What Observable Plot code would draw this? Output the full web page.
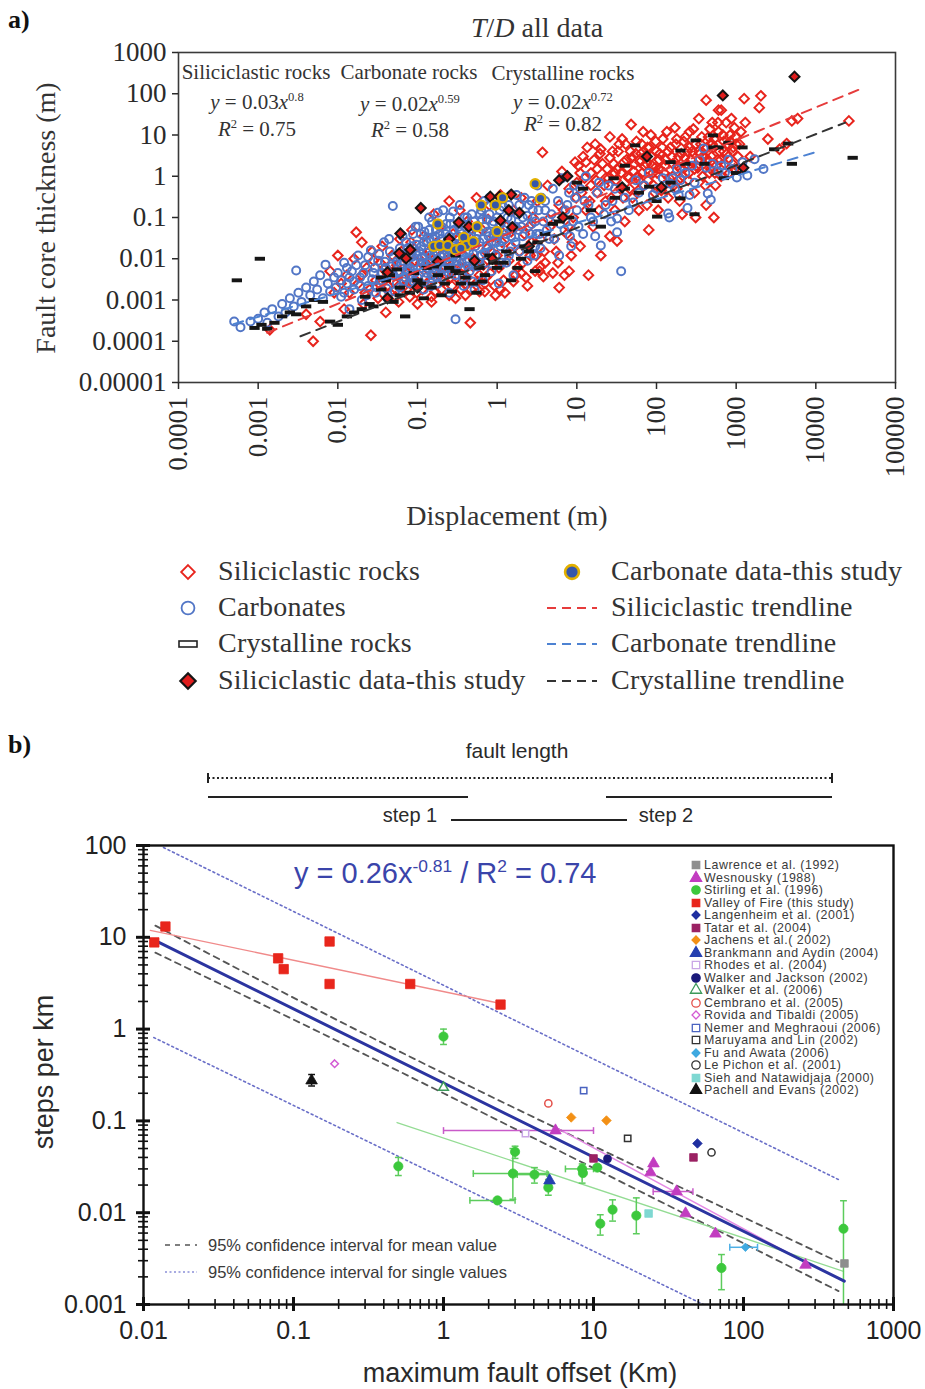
<!DOCTYPE html>
<html><head><meta charset="utf-8">
<script src="https://cdn.jsdelivr.net/npm/d3@7"></script>
<script src="https://cdn.jsdelivr.net/npm/@observablehq/plot@0.6"></script>
<style>
body{margin:0;background:#fff;}
#root{position:relative;width:925px;height:1389px;overflow:hidden;background:#fff;}
.abs{position:absolute;white-space:nowrap;line-height:1;}
.serif{font-family:"Liberation Serif","DejaVu Serif",serif;color:#333;}
.sans{font-family:"Liberation Sans",Arial,sans-serif;color:#333;}
sup{font-size:0.6em;vertical-align:0.6em;line-height:0;}
svg{position:absolute;left:0;}
</style></head><body><div id="root"></div>
<script>
// ---------------- Panel a data: [displacement (m), core thickness (m)] ----------------
const siliciclastic = [
[0.0014,0.00019],[0.0049,0.0001],[0.004,0.00045],[0.006,0.0003],[0.008,0.005],[0.009,0.0015],[0.01,0.012],[0.011,0.0025],
[0.012,0.0006],[0.013,0.004],[0.014,0.0015],[0.016,0.01],[0.017,0.044],[0.018,0.0025],[0.02,0.025],[0.021,0.0008],[0.023,0.006],
[0.025,0.0018],[0.026,0.00014],[0.027,0.015],[0.03,0.003],[0.032,0.0011],[0.034,0.008],[0.036,0.02],[0.04,0.0005],[0.042,0.004],
[0.045,0.0015],[0.048,0.012],[0.05,0.0028],[0.055,0.007],[0.058,0.0009],[0.06,0.03],[0.065,0.002],[0.07,0.01],[0.075,0.0045],
[0.08,0.0012],[0.085,0.05],[0.09,0.018],[0.095,0.003],
[0.1,0.0008],[0.11,0.008],[0.12,0.035],[0.13,0.0025],[0.14,0.015],[0.15,0.0012],[0.16,0.12],[0.17,0.005],[0.19,0.06],[0.2,0.0018],
[0.21,0.02],[0.23,0.009],[0.25,0.25],[0.26,0.0035],[0.28,0.04],[0.3,0.0011],[0.32,0.015],[0.34,0.15],[0.36,0.006],[0.4,0.0025],
[0.42,0.08],[0.45,0.025],[0.46,0.00028],[0.5,0.01],[0.55,0.3],[0.6,0.004],[0.65,0.05],[0.7,0.0016],[0.75,0.018],[0.8,0.2],
[0.85,0.007],[0.9,0.035],[0.95,0.0013],
[1,0.012],[1.1,0.35],[1.2,0.003],[1.3,0.06],[1.5,0.02],[1.6,0.15],[1.8,0.006],[2,0.3],[2.2,0.04],[2.4,0.0022],[2.6,0.012],
[2.8,0.1],[3,0.005],[3.2,0.25],[3.5,0.03],[3.7,3.8],[3.8,0.0037],[4,0.008],[4.3,0.6],[4.6,0.06],[5,0.0045],[5.5,0.015],[6,0.2],
[6,0.002],[6.5,1.3],[7,0.004],[7.5,0.04],[8,0.5],[8,0.005],[8.5,0.012],[9,0.1],[9.5,2.2],
[10,0.7],[11,0.02],[12,3],[13,0.15],[14,0.004],[15,1.2],[16,0.06],[17,6],[18,0.4],[20,0.012],[21,2],[23,0.25],[25,0.9],
[26,0.035],[28,4],[30,0.15],[32,1.5],[32,0.027],[35,0.5],[37,8],[40,0.08],[42,2.5],[45,0.9],[48,18],[50,0.3],[55,3.5],[58,1],
[60,0.15],[65,6],[70,0.6],[75,2],[76,0.2],[80,0.05],[85,10],[90,1.2],[95,0.4],
[100,4],[105,0.15],[110,1.5],[120,8],[125,0.6],[130,2.5],[140,0.3],[150,5],[160,1],[170,15],[180,0.5],[190,3],[200,1.5],
[210,0.12],[220,7],[240,2],[250,0.8],[260,12],[280,4],[300,0.4],[310,0.1],[320,1.8],[340,25],[360,6],[380,1],[400,3],[420,70],
[420,0.2],[450,9],[480,1.5],[500,20],[520,5],[525,0.1],[550,0.6],[580,2.5],[600,12],[650,40],[650,1],[700,4],[750,20],[850,7],
[900,2],[950,15],[1000,6],[1100,1.5],[1260,76],[1300,20],[1500,3],[1950,46],[2040,89],[2500,8],[4300,6.2],[5000,22],[5900,25],[26000,22],
[0.02,0.004],[0.022,0.0015],[0.028,0.009],[0.033,0.0025],[0.038,0.0055],[0.043,0.0022],[0.047,0.0075],[0.053,0.0012],[0.058,0.005],
[0.063,0.015],[0.068,0.0035],[0.073,0.0018],[0.078,0.007],[0.083,0.025],[0.088,0.0025],[0.093,0.009],[0.098,0.0015],
[0.105,0.004],[0.115,0.0018],[0.125,0.012],[0.135,0.0055],[0.145,0.0028],[0.155,0.009],[0.165,0.0016],[0.175,0.025],[0.185,0.004],
[0.195,0.012],[0.21,0.0028],[0.22,0.0065],[0.24,0.0045],[0.25,0.016],[0.27,0.0022],[0.29,0.008],[0.31,0.0035],[0.33,0.03],
[0.35,0.0018],[0.37,0.012],[0.39,0.006],[0.42,0.0035],[0.44,0.045],[0.47,0.0018],[0.5,0.0065],[0.53,0.025],[0.57,0.0028],
[0.62,0.012],[0.67,0.007],[0.72,0.0035],[0.77,0.09],[0.82,0.0045],[0.88,0.014],[0.93,0.0022],
[1.05,0.006],[1.15,0.025],[1.25,0.0015],[1.4,0.009],[1.5,0.045],[1.7,0.004],[1.9,0.015],[2.1,0.008],[2.3,0.0035],[2.5,0.06],
[2.7,0.025],[3.1,0.012],[3.4,0.005],[3.9,0.015],[4.4,0.09],[5.2,0.03],[5.8,0.008],[6.8,0.15],[7.8,0.06],[8.8,0.025],[9.8,0.3],
[10.5,1.8],[11.5,0.4],[12.5,0.9],[13.5,5],[14.5,0.25],[16.5,2.5],[17.5,0.8],[19,0.15],[19.5,3.5],[22,0.6],[24,1.5],[26,9],
[27,0.3],[29,2],[31,0.8],[33,4],[36,1.2],[38,0.3],[41,6],[43,1.6],[46,0.5],[49,2.8],[52,1.3],[56,7],[59,0.45],[62,2.2],[66,1.2],
[68,12],[72,3],[78,0.8],[82,5],[88,1.8],[92,0.6],[98,7],
[102,1.2],[108,2.5],[115,0.45],[118,5],[128,1.8],[135,12],[145,0.9],[155,3],[165,0.6],[175,6],[185,1.8],[195,0.25],[205,3.5],
[215,1],[230,9],[245,4],[255,1.2],[270,2.5],[290,14],[310,6],[330,1.6],[350,3.5],[370,9],[390,2],[410,0.6],[430,5],[460,1.2],
[470,14],[490,3],[530,8],[560,1.8],[590,20],[620,4],[680,10],[720,2],[780,6],[820,1.2],[870,25],[920,5],[980,9],[1050,3],
[1150,12],[3500,4.5],[600,40],
[11,1.2],[13,2.2],[15,0.6],[18,1.5],[20,4.5],[23,0.9],[26,2.8],[30,1.2],[34,6],[39,2.2],[44,1],[47,4],[53,2],[60,0.8],[64,3.5],
[70,1.8],[77,5],[86,3],[96,1.6],[110,3.5],[125,1.2],[140,4],[160,2],[180,8],[200,0.9],[225,2.8],[260,5],[300,1.5],[340,4],
[380,3],[440,2.5],[500,6],[540,1.2],[640,2.5],[700,7],[760,3.5],[840,10],[900,4],[950,1.5],[1100,6],
[0.6,0.0016],[0.7,0.0025],[1.1,0.0018],[1.6,0.0028],[2,0.0045],[3.5,0.0065],[0.15,0.0009],[0.25,0.0013],[0.4,0.0013]
];
const carbonates = [
[0.0005,0.0003],[0.0006,0.00022],[0.0008,0.0003],[0.001,0.00035],[0.0012,0.0005],[0.0013,0.00028],[0.0015,0.0006],[0.0018,0.0004],
[0.002,0.0008],[0.0022,0.0005],[0.0025,0.0011],[0.0028,0.0007],[0.003,0.0052],[0.0032,0.0015],[0.0035,0.0009],[0.004,0.002],
[0.0045,0.0013],[0.005,0.0028],[0.0055,0.0018],[0.006,0.004],[0.0065,0.0011],[0.007,0.0072],[0.0075,0.0025],[0.008,0.0016],
[0.009,0.0035],[0.0095,0.002],
[0.01,0.0045],[0.011,0.0012],[0.012,0.008],[0.013,0.0025],[0.014,0.0006],[0.015,0.005],[0.016,0.0018],[0.018,0.012],[0.019,0.0035],
[0.02,0.001],[0.022,0.007],[0.024,0.0022],[0.026,0.016],[0.028,0.0045],[0.03,0.0015],[0.032,0.009],[0.035,0.003],[0.038,0.025],
[0.04,0.006],[0.042,0.0011],[0.045,0.015],[0.049,0.19],[0.05,0.004],[0.055,0.0085],[0.06,0.002],[0.065,0.035],[0.07,0.012],
[0.075,0.005],[0.08,0.0025],[0.085,0.02],[0.09,0.008],[0.095,0.06],
[0.1,0.0035],[0.105,0.015],[0.11,0.04],[0.12,0.0018],[0.125,0.007],[0.13,0.025],[0.14,0.1],[0.15,0.004],[0.16,0.012],[0.17,0.05],
[0.18,0.0025],[0.19,0.009],[0.2,0.03],[0.21,0.15],[0.22,0.006],[0.24,0.018],[0.25,0.0015],[0.26,0.07],[0.28,0.011],[0.3,0.00034],
[0.3,0.004],[0.32,0.035],[0.34,0.2],[0.36,0.008],[0.38,0.0022],[0.4,0.02],[0.42,0.1],[0.45,0.005],[0.48,0.05],[0.5,0.013],
[0.52,0.0018],[0.55,0.03],[0.6,0.008],[0.63,0.15],[0.66,0.003],[0.7,0.06],[0.75,0.02],[0.8,0.3],[0.85,0.005],[0.9,0.04],[0.95,0.012],
[1,0.1],[1.05,0.0025],[1.1,0.02],[1.2,0.05],[1.3,0.008],[1.4,0.2],[1.5,0.035],[1.6,0.004],[1.8,0.12],[1.9,0.015],[2,0.06],
[2.2,0.3],[2.4,0.009],[2.6,0.04],[2.8,0.15],[3,0.02],[3.2,0.6],[3.5,0.018],[3.8,0.08],[4,0.25],[4.5,0.03],[5,0.5],[5.5,0.1],
[6,0.012],[6.5,0.9],[7,0.05],[7.6,0.2],[8,0.4],[8.5,0.02],[9,0.08],[9.5,0.3],
[10,0.15],[11,0.5],[12,0.04],[13,1],[14,0.2],[16,0.08],[18,0.4],[20,0.021],[22,0.12],[25,0.6],[28,0.25],[32,0.044],[32,0.095],
[36,0.005],[40,0.3],[45,0.15],[51,0.23],[55,0.8],[60,0.4],[70,0.6],[80,1.2],[90,0.35],
[100,0.5],[120,0.9],[140,0.125],[145,0.1],[150,0.66],[180,1.5],[200,0.8],[230,1.2],[245,0.17],[300,0.7],[390,4.7],[440,0.38],
[480,0.27],[500,2],[600,1.3],[720,1.2],[800,2.5],[1020,0.93],[1380,1.05],[2200,1.5],
[0.011,0.003],[0.012,0.0015],[0.013,0.006],[0.014,0.0035],[0.016,0.0028],[0.017,0.007],[0.019,0.0022],[0.021,0.0045],[0.023,0.0013],
[0.024,0.011],[0.027,0.0032],[0.029,0.006],
[0.031,0.002],[0.033,0.013],[0.036,0.0045],[0.039,0.0085],[0.041,0.0019],[0.044,0.03],[0.046,0.0065],[0.05,0.011],[0.052,0.0016],
[0.057,0.0045],[0.06,0.018],[0.062,0.0075],[0.067,0.0028],[0.072,0.025],[0.074,0.0055],[0.078,0.013],[0.082,0.0035],[0.088,0.04],
[0.092,0.0045],[0.097,0.022],
[0.1,0.012],[0.102,0.06],[0.107,0.0025],[0.112,0.02],[0.118,0.008],[0.122,0.045],[0.128,0.0035],[0.133,0.014],[0.138,0.006],
[0.142,0.03],[0.148,0.0022],[0.152,0.08],[0.158,0.018],[0.163,0.0045],[0.168,0.035],[0.174,0.009],[0.18,0.13],[0.185,0.02],
[0.195,0.006],[0.2,0.06],[0.205,0.0035],[0.215,0.012],[0.225,0.04],[0.235,0.025],[0.245,0.008],[0.255,0.1],[0.265,0.015],
[0.27,0.0045],[0.285,0.05],[0.29,0.02],
[0.31,0.009],[0.33,0.06],[0.35,0.015],[0.37,0.0035],[0.39,0.1],[0.41,0.03],[0.43,0.0065],[0.44,0.015],[0.47,0.04],[0.49,0.0028],
[0.51,0.08],[0.53,0.02],[0.56,0.0065],[0.58,0.045],[0.61,0.12],[0.64,0.012],[0.67,0.03],[0.69,0.25],[0.72,0.008],[0.74,0.09],
[0.78,0.035],[0.82,0.015],[0.87,0.07],[0.92,0.2],[0.97,0.025],
[1.02,0.04],[1.08,0.15],[1.15,0.008],[1.25,0.03],[1.35,0.1],[1.45,0.015],[1.55,0.06],[1.7,0.025],[1.75,0.35],[1.85,0.05],
[2.1,0.1],[2.3,0.018],[2.5,0.2],[2.7,0.07],[2.9,0.012],[3.1,0.04],[3.3,0.15],[3.6,0.3],[4.2,0.05],[4.8,0.12],
[5.2,0.03],[5.8,0.25],[6.2,0.07],[7.2,0.15],[8.2,0.035],[9.2,0.6],[10.5,0.06],[12.5,0.25],[15,0.1],[17,0.035],[19,0.7],[23,0.2],
[27,0.08],[30,0.5],
[160,0.9],[170,0.5],[190,0.35],[260,0.35],[280,1.8],[350,2.5],[420,1.6],[650,1.8],[900,1.5],[1200,2.2],[1700,2.6],
[0.055,0.0025],[0.06,0.0045],[0.065,0.009],[0.07,0.0035],[0.075,0.018],[0.08,0.006],[0.085,0.011],[0.09,0.0028],[0.095,0.014],
[0.11,0.006],[0.115,0.011],[0.12,0.025],[0.13,0.0045],[0.135,0.008],[0.14,0.05],[0.145,0.012],[0.155,0.006],[0.16,0.03],
[0.17,0.015],[0.175,0.0035],[0.18,0.008],[0.19,0.04],[0.2,0.011],[0.21,0.0055],[0.22,0.02],[0.23,0.07],[0.24,0.011],[0.25,0.035],
[0.26,0.006],[0.27,0.025],[0.28,0.14],[0.3,0.018],[0.32,0.007],[0.34,0.045],[0.36,0.025],[0.38,0.012],[0.4,0.06],[0.42,0.009],
[0.44,0.035],[0.46,0.02],[0.48,0.12],[0.5,0.007],[0.55,0.06],[0.6,0.025],[0.65,0.09],[0.7,0.014],[0.75,0.045],[0.8,0.12],
[0.85,0.025],[0.9,0.08],[1,0.035],[1.1,0.07],[1.2,0.18],[1.3,0.04],[1.4,0.012],[1.5,0.09],[1.7,0.06],[1.9,0.2],[2.1,0.035],
[2.4,0.11],[2.7,0.25],[3,0.08],[3.4,0.04],[4,0.15]
];
const crystalline = [
[0.00054,0.003],[0.00105,0.01],[0.0009,0.00021],[0.0011,0.00025],[0.0013,0.0002],[0.0016,0.00028],[0.002,0.0004],[0.0025,0.0005],
[0.003,0.00045],[0.004,0.0007],[0.005,0.001],[0.0065,0.0009],[0.008,0.0003],[0.01,0.00025],[0.013,0.0004],[0.016,0.0005],
[0.02,0.0006],[0.022,0.0012],[0.028,0.0007],[0.035,0.0018],[0.04,0.003],[0.05,0.0009],[0.06,0.002],[0.07,0.0004],[0.08,0.0015],
[0.1,0.003],[0.12,0.0011],[0.13,0.006],[0.15,0.002],[0.18,0.004],[0.2,0.0013],[0.22,0.0025],[0.27,0.0016],[0.3,0.005],[0.33,0.0045],
[0.4,0.0035],[0.45,0.0006],[0.5,0.0025],[0.6,0.006],[0.7,0.004],[0.8,0.012],[1,0.006],[1.2,0.008],[1.5,0.003],[2,0.01],[2.5,0.015],
[3,0.005],[3.2,0.025],[4,0.04],[6,0.08],[8,0.1],[10,0.7],[12,0.5],[15,0.15],[20,0.06],[29,0.89],[30,0.3],[40,1.8],[54,5.6],
[60,0.4],[81,0.56],[100,0.25],[102,0.105],[150,0.7],[200,4.2],[200,0.29],[230,2],[300,0.12],[310,7.4],[400,2],[510,9.8],
[520,5],[700,0.9],[1000,1.2],[1200,5],[4500,6.2],[5000,2],[29000,2.8],
[0.035,0.0035],[0.045,0.004],[0.055,0.0055],[0.09,0.0045],[0.11,0.0025],[0.16,0.0065],[0.25,0.006],[0.35,0.0025],[0.55,0.0015],
[0.9,0.008],[1.3,0.015],[1.8,0.006],[2.2,0.02],[0.06,0.0013],[0.025,0.0008],[0.3,0.012],[0.65,0.0028],[5,0.07],[40,0.5],
[150,2.2],[600,5],[800,6.5],[3000,4.5]
];
const siliciclasticStudy = [
[0.042,0.0011],[0.042,0.0047],[0.059,0.0135],[0.061,0.041],[0.072,0.0102],[0.081,0.0166],[0.1,0.002],[0.11,0.17],[0.18,0.0085],
[0.25,0.03],[0.33,0.076],[0.44,0.06],[0.52,0.009],[0.82,0.32],[0.87,0.01],[1.07,0.32],[1.1,0.085],[1.4,0.15],[1.5,0.36],
[1.55,0.058],[1.9,0.13],[2.5,0.02],[6,0.8],[6.7,0.1],[7.6,1.0],[37,0.54],[76,3],[115,0.54],[680,91],[1230,1.6],[5400,260]
];
const carbonateStudy = [
[3.0,0.66],[3.5,0.29],[0.63,0.2],[0.95,0.2],[1.17,0.3],[0.18,0.07],[0.56,0.06],[1.0,0.046],[0.16,0.02],[0.19,0.021],
[0.24,0.021],[0.3,0.0166],[0.38,0.033],[0.41,0.021],[0.5,0.026],[0.35,0.018]
];
const siliciclasticTrend = [[0.0013,0.00016],[38000,135]];
const carbonateTrend = [[0.00049,0.00026],[9800,3.8]];
const crystallineTrend = [[0.0034,0.000132],[23400,20]];
const xTicksA = [1e-4,1e-3,1e-2,1e-1,1,10,100,1000,1e4,1e5];
const xTickLabelsA = ["0.0001","0.001","0.01","0.1","1","10","100","1000","10000","100000"];
const yTicksA = [1e-5,1e-4,1e-3,1e-2,1e-1,1,10,100,1000];
const yTickLabelsA = ["0.00001","0.0001","0.001","0.01","0.1","1","10","100","1000"];
const legendA = ["Siliciclastic rocks","Carbonates","Crystalline rocks","Siliciclastic data-this study",
  "Carbonate data-this study","Siliciclastic trendline","Carbonate trendline","Crystalline trendline"];

// ---------------- Panel b data: [max fault offset (km), steps per km] ----------------
const valleyOfFire = [[0.0118,8.8],[0.014,13.1],[0.079,5.9],[0.086,4.5],[0.174,9.0],[0.174,3.1],[0.6,3.1],[2.4,1.85]];
const stirling = [
 {x:1.0,y:0.83,ylo:0.68,yhi:1.0},
 {x:0.5,y:0.032,ylo:0.0254,yhi:0.04},
 {x:3.0,y:0.046,ylo:0.039,yhi:0.053},
 {x:2.9,y:0.0267,ylo:0.014,yhi:0.05,xlo:1.58,xhi:4.9},
 {x:4.04,y:0.026,ylo:0.021,yhi:0.031,xlo:3.1,xhi:5.0},
 {x:2.29,y:0.0136,xlo:1.5,xhi:3.0},
 {x:5.0,y:0.0188,ylo:0.0155,yhi:0.023},
 {x:8.4,y:0.030,ylo:0.021,yhi:0.034,xlo:6.5,xhi:10.0},
 {x:8.5,y:0.027},
 {x:10.6,y:0.031},
 {x:11.1,y:0.0076,ylo:0.0057,yhi:0.0095},
 {x:13.4,y:0.0108,ylo:0.0081,yhi:0.0138},
 {x:19.3,y:0.0093,ylo:0.0059,yhi:0.0145},
 {x:71.3,y:0.0025,ylo:0.00145,yhi:0.0035},
 {x:464,y:0.0067,ylo:0.001,yhi:0.0135}
];
const wesnousky = [
 {x:5.58,y:0.0785,xlo:1.0,xhi:10.0},{x:25.1,y:0.0343},{x:24,y:0.0274},{x:35.8,y:0.017,xlo:25,xhi:46},
 {x:41.1,y:0.0098},{x:65,y:0.0059},{x:259,y:0.0027}
];
const lawrence = [[471,0.0028]];
const langenheim = [[49.3,0.0568]];
const tatar = [[10,0.039],[46.4,0.04]];
const jachens = [[7.1,0.109],[12.2,0.101]];
const brankmann = [[5.09,0.0224]];
const rhodes = [[3.52,0.073]];
const walkerJackson = [[12.4,0.0386]];
const walker2006 = [[1.0,0.231]];
const cembrano = [[5.0,0.155]];
const rovida = [[0.188,0.42]];
const nemer = [[8.6,0.214]];
const maruyama = [[16.9,0.0646]];
const fuAwata = [{x:103,y:0.0042,xlo:81,xhi:124}];
const lePichon = [[61.2,0.0453]];
const sieh = [[23.3,0.0098]];
const pachell = [{x:0.132,y:0.275,ylo:0.24,yhi:0.32}];
const mainFit = [[0.012,9.2],[470,0.0018]];
const ciMeanUpper = [[0.012,13.4],[1,0.33],[430,0.0029]];
const ciMeanLower = [[0.012,6.8],[1,0.2],[430,0.0014]];
const ciSingleUpper = [[0.0136,95],[443,0.0224]];
const ciSingleLower = [[0.0117,0.81],[54,0.001]];
const valleyFit = [[0.0111,11.9],[2.4,1.9]];
const stirlingFit = [[0.49,0.096],[464,0.0023]];
const wesnouskyFit = [[5.75,0.083],[267,0.0028]];
const xTicksB = [0.01,0.1,1,10,100,1000];
const xTickLabelsB = ["0.01","0.1","1","10","100","1000"];
const yTicksB = [0.001,0.01,0.1,1,10,100];
const yTickLabelsB = ["0.001","0.01","0.1","1","10","100"];
const legendB = ["Lawrence et al. (1992)","Wesnousky (1988)","Stirling et al. (1996)","Valley of Fire (this study)",
 "Langenheim et al. (2001)","Tatar et al. (2004)","Jachens et al.( 2002)","Brankmann and Aydin (2004)","Rhodes et al. (2004)",
 "Walker and Jackson (2002)","Walker et al. (2006)","Cembrano et al. (2005)","Rovida and Tibaldi (2005)",
 "Nemer and Meghraoui (2006)","Maruyama and Lin (2002)","Fu and Awata (2006)","Le Pichon et al. (2001)",
 "Sieh and Natawidjaja (2000)","Pachell and Evans (2002)"];

const C = {lawrence:"#8e8e8e", wes:"#c23cc0", stir:"#3cc83c", vof:"#e8261c", lang:"#1f2fa0", tatar:"#9b2163",
  jach:"#f39015", brank:"#2540b0", rhodes:"#c9a6e6", wj:"#1b1a7a", w06:"#3c9a5a", cemb:"#e4504a", rov:"#d35bd3",
  nemer:"#4a63c0", maru:"#333", fu:"#3fa9e0", lep:"#333", sieh:"#7fd8d2", pach:"#111"};
const legendBStyle = [["square",C.lawrence,1],["triangle",C.wes,1],["circle",C.stir,1],["square",C.vof,1],["diamond2",C.lang,1],
 ["square",C.tatar,1],["diamond2",C.jach,1],["triangle",C.brank,1],["square",C.rhodes,0],["circle",C.wj,1],["triangle",C.w06,0],
 ["circle",C.cemb,0],["diamond2",C.rov,0],["square",C.nemer,0],["square",C.maru,0],["diamond2",C.fu,1],["circle",C.lep,0],
 ["square",C.sieh,1],["triangle",C.pach,1]];

const root = document.getElementById("root");
function put(html, x, y, o = {}) {
  const d = document.createElement("div");
  d.className = "abs " + (o.cls || "serif");
  d.innerHTML = html;
  d.style.left = x + "px"; d.style.top = y + "px";
  d.style.fontSize = (o.size || 20) + "px";
  if (o.color) d.style.color = o.color;
  if (o.weight) d.style.fontWeight = o.weight;
  if (o.ls) d.style.letterSpacing = o.ls + "px";
  const tx = o.align === "center" ? "-50%" : o.align === "right" ? "-100%" : "0";
  d.style.transform = `translate(${tx},-50%)` + (o.rotate ? ` rotate(${o.rotate}deg)` : "");
  root.appendChild(d);
  return d;
}
const symMap = {square:d3.symbolSquare, triangle:d3.symbolTriangle, circle:d3.symbolCircle, diamond2:d3.symbolDiamond2};
function iconSvg(sym, color, filled, area, w, h, sw = 1.5, strokeOverride) {
  const p = d3.symbol(symMap[sym], area)();
  return `<svg width="${w}" height="${h}" style="position:static;overflow:visible;display:block"><path transform="translate(${w/2},${h/2})" d="${p}" fill="${filled ? color : "white"}" stroke="${strokeOverride || color}" stroke-width="${sw}"/></svg>`;
}

const barSym = {draw(ctx, size) { const w = Math.sqrt(size) * 1.45, h = w * 0.38; ctx.rect(-w/2, -h/2, w, h); }};
const hCap = {draw(ctx, size) { const w = Math.sqrt(size) * 0.55; ctx.moveTo(-w, 0); ctx.lineTo(w, 0); }};
const vCap = {draw(ctx, size) { const w = Math.sqrt(size) * 0.55; ctx.moveTo(0, -w); ctx.lineTo(0, w); }};

// ================= Panel a =================
const fmtA = new Map(xTicksA.map((t, i) => [t, xTickLabelsA[i]]));
const fmtAy = new Map(yTicksA.map((t, i) => [t, yTickLabelsA[i]]));
const X = d => d[0], Y = d => d[1];
const plotA = Plot.plot({
  width: 925, height: 480,
  marginLeft: 178, marginRight: 30, marginTop: 52, marginBottom: 98,
  x: {type: "log", domain: [1e-4, 1e5]},
  y: {type: "log", domain: [1e-5, 1e3]},
  style: {fontFamily: "Liberation Serif, serif", fontSize: "27px", color: "#2a2a2a", background: "transparent", overflow: "visible"},
  marks: [
    Plot.dot(siliciclastic, {x: X, y: Y, symbol: "diamond2", r: 4.3, stroke: "#e8241c", strokeWidth: 2, fill: "none"}),
    Plot.dot(carbonates, {x: X, y: Y, symbol: "circle", r: 4, stroke: "#5276c6", strokeWidth: 2, fill: "none"}),
    Plot.dot(crystalline, {x: X, y: Y, symbol: barSym, r: 4, fill: "#151515", stroke: "none"}),
    Plot.dot(siliciclasticStudy, {x: X, y: Y, symbol: "diamond2", r: 4.5, fill: "#e01e1e", stroke: "#151515", strokeWidth: 2}),
    Plot.dot(carbonateStudy, {x: X, y: Y, symbol: "circle", r: 4.6, fill: "#3556aa", stroke: "#e2b000", strokeWidth: 2.2}),
    Plot.line(carbonateTrend, {x: X, y: Y, stroke: "#4d82d2", strokeWidth: 2, strokeDasharray: "10,7"}),
    Plot.line(crystallineTrend, {x: X, y: Y, stroke: "#333", strokeWidth: 2, strokeDasharray: "10,7"}),
    Plot.line(siliciclasticTrend, {x: X, y: Y, stroke: "#e63c3c", strokeWidth: 2, strokeDasharray: "10,7"}),
    Plot.frame({stroke: "#3a3a3a", strokeWidth: 1.6}),
    Plot.axisX({ticks: xTicksA, tickFormat: d => fmtA.get(d), tickRotate: -90, tickSize: 7, tickPadding: 7, label: null, strokeWidth: 1.5}),
    Plot.axisY({ticks: yTicksA, tickFormat: d => fmtAy.get(d), tickSize: 6, tickPadding: 6, label: null, strokeWidth: 1.5})
  ]
});
plotA.style.top = "0px";
root.appendChild(plotA);

put("a)", 8, 20, {size: 26, weight: "bold", color: "#111"});
put("<i>T</i>/<i>D</i> all data", 537, 28, {size: 28, align: "center"});
put("Fault core thickness (m)", 46, 218, {size: 28, align: "center", rotate: -90});
put("Displacement (m)", 507, 516, {size: 28, align: "center"});
put("Siliciclastic rocks", 256, 72, {size: 21, align: "center"});
put("Carbonate rocks", 409, 72, {size: 21, align: "center"});
put("Crystalline rocks", 563, 73, {size: 21, align: "center"});
put("<i>y</i> = 0.03<i>x</i><sup>0.8</sup>", 257, 102, {size: 21, align: "center"});
put("<i>y</i> = 0.02<i>x</i><sup>0.59</sup>", 410, 104, {size: 21, align: "center"});
put("<i>y</i> = 0.02<i>x</i><sup>0.72</sup>", 563, 102, {size: 21, align: "center"});
put("<i>R</i><sup>2</sup> = 0.75", 257, 129, {size: 21, align: "center"});
put("<i>R</i><sup>2</sup> = 0.58", 410, 130, {size: 21, align: "center"});
put("<i>R</i><sup>2</sup> = 0.82", 563, 124, {size: 21, align: "center"});

const rowsA = [571, 607, 643, 680];
const iconsA = [
  iconSvg("diamond2", "#e8241c", 0, 120, 22, 22, 1.8),
  iconSvg("circle", "#5276c6", 0, 130, 22, 22, 1.8),
  `<svg width="22" height="22" style="position:static;display:block"><rect x="2" y="8" width="18" height="6" fill="white" stroke="#222" stroke-width="1.6"/></svg>`,
  iconSvg("diamond2", "#e01e1e", 1, 150, 22, 22, 2.2, "#151515"),
  iconSvg("circle", "#3556aa", 1, 150, 22, 22, 2.6, "#e2b000"),
  `<svg width="50" height="10" style="position:static;display:block"><line x1="0" y1="5" x2="50" y2="5" stroke="#e63c3c" stroke-width="2" stroke-dasharray="9,6"/></svg>`,
  `<svg width="50" height="10" style="position:static;display:block"><line x1="0" y1="5" x2="50" y2="5" stroke="#4d82d2" stroke-width="2" stroke-dasharray="9,6"/></svg>`,
  `<svg width="50" height="10" style="position:static;display:block"><line x1="0" y1="5" x2="50" y2="5" stroke="#333" stroke-width="2" stroke-dasharray="9,6"/></svg>`
];
legendA.forEach((lab, i) => {
  const col = i < 4 ? 0 : 1, row = i % 4;
  const y = rowsA[row];
  put(iconsA[i], col === 0 ? 188 : 572, y + 1, {align: "center", size: 10});
  put(lab, col === 0 ? 218 : 611, y, {size: 28, ls: 0.2});
});

// ================= Panel b =================
const fmtB = new Map(xTicksB.map((t, i) => [t, xTickLabelsB[i]]));
const fmtBy = new Map(yTicksB.map((t, i) => [t, yTickLabelsB[i]]));
const minorX = xTicksB.slice(0, -1).flatMap(t => [2,3,4,5,6,7,8,9].map(k => +(t * k).toPrecision(3)));
const minorY = yTicksB.slice(0, -1).flatMap(t => [2,3,4,5,6,7,8,9].map(k => +(t * k).toPrecision(3)));
const FW = 750, FH = 459;
const eb = (data, color, sw = 1.5, cap = 3.5) => [
  Plot.ruleX(data.filter(d => d.ylo != null), {x: "x", y1: "ylo", y2: "yhi", stroke: color, strokeWidth: sw}),
  Plot.dot(data.filter(d => d.ylo != null && d.ylo > 0.00101), {x: "x", y: "ylo", symbol: hCap, r: cap, stroke: color, strokeWidth: sw, fill: "none"}),
  Plot.dot(data.filter(d => d.yhi != null), {x: "x", y: "yhi", symbol: hCap, r: cap, stroke: color, strokeWidth: sw, fill: "none"}),
  Plot.ruleY(data.filter(d => d.xlo != null), {y: "y", x1: "xlo", x2: "xhi", stroke: color, strokeWidth: sw}),
  Plot.dot(data.filter(d => d.xlo != null), {x: "xlo", y: "y", symbol: vCap, r: cap, stroke: color, strokeWidth: sw, fill: "none"}),
  Plot.dot(data.filter(d => d.xhi != null), {x: "xhi", y: "y", symbol: vCap, r: cap, stroke: color, strokeWidth: sw, fill: "none"})
];
const pt = (data, sym, color, filled, r = 4) => Plot.dot(data, {
  x: d => Array.isArray(d) ? d[0] : d.x, y: d => Array.isArray(d) ? d[1] : d.y,
  symbol: sym, r, fill: filled ? color : "white", stroke: color, strokeWidth: filled ? 0.8 : 1.5
});
const plotB = Plot.plot({
  width: 925, height: 559,
  marginLeft: 143, marginRight: 32, marginTop: 15, marginBottom: 85,
  x: {type: "log", domain: [0.01, 1000]},
  y: {type: "log", domain: [0.001, 100]},
  style: {fontFamily: "Liberation Sans, Arial, sans-serif", fontSize: "25px", color: "#222", background: "transparent", overflow: "visible"},
  marks: [
    Plot.line(ciSingleUpper, {x: X, y: Y, stroke: "#6a6fc8", strokeWidth: 1.6, strokeDasharray: "2,3", clip: true}),
    Plot.line(ciSingleLower, {x: X, y: Y, stroke: "#6a6fc8", strokeWidth: 1.6, strokeDasharray: "2,3", clip: true}),
    Plot.line(ciMeanUpper, {x: X, y: Y, curve: "natural", stroke: "#555", strokeWidth: 1.8, strokeDasharray: "6,5"}),
    Plot.line(ciMeanLower, {x: X, y: Y, curve: "natural", stroke: "#555", strokeWidth: 1.8, strokeDasharray: "6,5"}),
    Plot.line(valleyFit, {x: X, y: Y, stroke: "#f08a8a", strokeWidth: 1.3}),
    Plot.line(stirlingFit, {x: X, y: Y, stroke: "#94dc94", strokeWidth: 1.3}),
    Plot.line(wesnouskyFit, {x: X, y: Y, stroke: "#e48ae4", strokeWidth: 1.5}),
    ...eb(stirling, "#5ccc5c"),
    ...eb(wesnousky, "#c95ac9"),
    ...eb(fuAwata, "#4fb0e6"),
    ...eb(pachell, "#111"),
    Plot.line(mainFit, {x: X, y: Y, stroke: "#2b34a0", strokeWidth: 3}),
    pt(valleyOfFire, "square", C.vof, 1, 5.3),
    pt(stirling, "circle", C.stir, 1, 4.6),
    pt(wesnousky, "triangle", C.wes, 1, 4.3),
    pt(lawrence, "square", C.lawrence, 1, 4.3),
    pt(langenheim, "diamond2", C.lang, 1, 4.3),
    pt(tatar, "square", C.tatar, 1, 4.3),
    pt(jachens, "diamond2", C.jach, 1, 4.3),
    pt(brankmann, "triangle", C.brank, 1, 4.3),
    pt(rhodes, "square", C.rhodes, 0, 3.6),
    pt(walkerJackson, "circle", C.wj, 1, 4),
    pt(walker2006, "triangle", C.w06, 0, 3.6),
    pt(cembrano, "circle", C.cemb, 0, 3.6),
    pt(rovida, "diamond2", C.rov, 0, 3.4),
    pt(nemer, "square", C.nemer, 0, 3.6),
    pt(maruyama, "square", C.maru, 0, 3.6),
    pt(fuAwata, "diamond2", C.fu, 1, 3.8),
    pt(lePichon, "circle", C.lep, 0, 3.6),
    pt(sieh, "square", C.sieh, 1, 4.3),
    pt(pachell, "triangle", C.pach, 1, 4.3),
    Plot.ruleX(minorX, {insetTop: FH - 5, insetBottom: -5, stroke: "#111", strokeWidth: 1.6}),
    Plot.ruleX(xTicksB, {insetTop: FH - 7, insetBottom: -7, stroke: "#111", strokeWidth: 3}),
    Plot.ruleY(minorY, {insetRight: FW - 5, insetLeft: -5, stroke: "#111", strokeWidth: 1.6}),
    Plot.ruleY(yTicksB, {insetRight: FW - 7, insetLeft: -7, stroke: "#111", strokeWidth: 3}),
    Plot.frame({stroke: "#111", strokeWidth: 2.4}),
    Plot.axisX({ticks: xTicksB, tickFormat: d => fmtB.get(d), tickSize: 0, tickPadding: 17, label: null}),
    Plot.axisY({ticks: yTicksB, tickFormat: d => fmtBy.get(d), tickSize: 0, tickPadding: 17, label: null})
  ]
});
plotB.style.top = "830px";
root.appendChild(plotB);

put("b)", 8, 745, {size: 26, weight: "bold", color: "#111"});
put("steps per km", 44, 1072, {cls: "sans", size: 27, align: "center", rotate: -90, color: "#2a2a2a"});
put("maximum fault offset (Km)", 520, 1373, {cls: "sans", size: 27, align: "center", color: "#2a2a2a"});
put("y = 0.26x<sup>-0.81</sup> / R<sup>2</sup> = 0.74", 294, 873, {cls: "sans", size: 29, color: "#3a44aa"});

legendB.forEach((lab, i) => {
  const y = 865 + i * 12.5;
  const [s, c, f] = legendBStyle[i];
  put(iconSvg(s, c, f, s === "diamond2" ? 40 : 55, 10, 10, 1.3), 696, y, {align: "center", size: 10});
  put(lab, 704, y, {cls: "sans", size: 12.4, color: "#3a3a3a", ls: 0.55});
});
put(`<svg width="32" height="6" style="position:static;display:block"><line x1="0" y1="3" x2="32" y2="3" stroke="#555" stroke-width="1.6" stroke-dasharray="5,5"/></svg>`, 165, 1245, {size: 6});
put(`<svg width="32" height="6" style="position:static;display:block"><line x1="0" y1="3" x2="32" y2="3" stroke="#8a8fd8" stroke-width="1.5" stroke-dasharray="2,2.5"/></svg>`, 165, 1272, {size: 6});
put("95% confidence interval for mean value", 208, 1245, {cls: "sans", size: 16.5, color: "#3a3a3a"});
put("95% confidence interval for single values", 208, 1272, {cls: "sans", size: 16.5, color: "#3a3a3a"});

put("fault length", 517, 750, {cls: "sans", size: 21, align: "center", color: "#2a2a2a"});
put("step 1", 410, 815, {cls: "sans", size: 20, align: "center", color: "#2a2a2a"});
put("step 2", 666, 815, {cls: "sans", size: 20, align: "center", color: "#2a2a2a"});
const sch = document.createElementNS("http://www.w3.org/2000/svg", "svg");
sch.setAttribute("width", 925); sch.setAttribute("height", 60);
sch.style.top = "765px";
sch.innerHTML = `<line x1="208" y1="13" x2="832" y2="13" stroke="#222" stroke-width="2" stroke-dasharray="2,2.5"/>
<line x1="208" y1="8" x2="208" y2="18" stroke="#222" stroke-width="2"/><line x1="832" y1="8" x2="832" y2="18" stroke="#222" stroke-width="2"/>
<line x1="208" y1="32" x2="468" y2="32" stroke="#222" stroke-width="2"/><line x1="606" y1="32" x2="832" y2="32" stroke="#222" stroke-width="2"/>
<line x1="451" y1="55" x2="627" y2="55" stroke="#222" stroke-width="2"/>`;
root.appendChild(sch);
</script></body></html>
